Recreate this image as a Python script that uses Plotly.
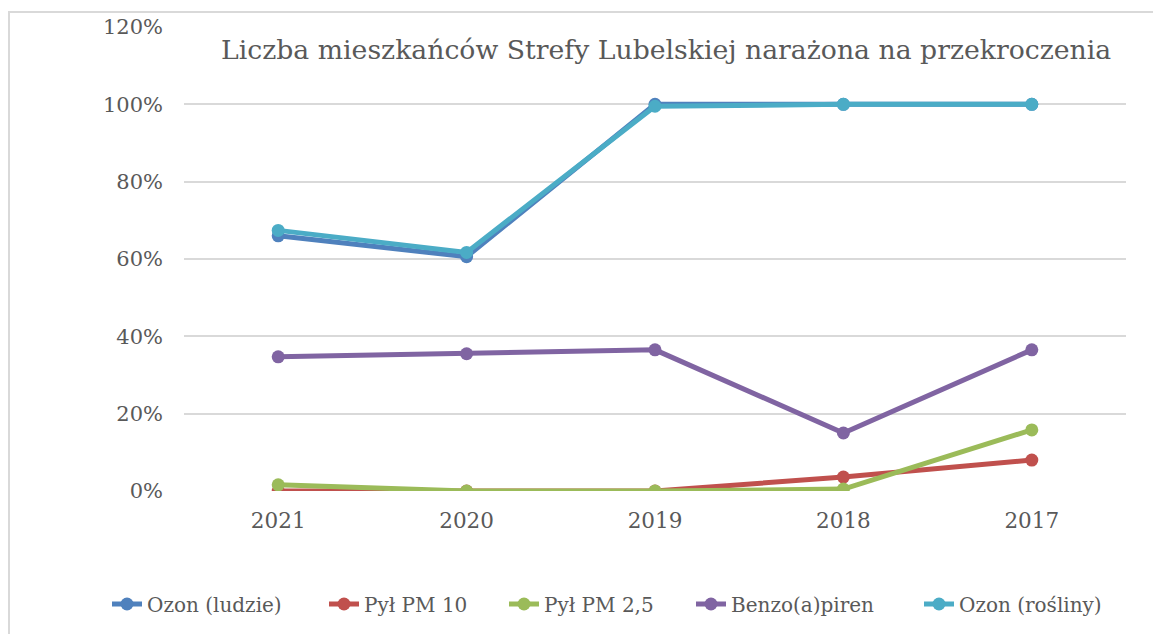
import plotly.graph_objects as go

years = ["2021", "2020", "2019", "2018", "2017"]
ozon_ludzie = [0.66, 0.606, 1.0, 1.0, 1.0]
pyl_pm10 = [0.0, 0.0, 0.0, 0.036, 0.08]
pyl_pm25 = [0.016, 0.0, 0.0, 0.005, 0.158]
benzo = [0.347, 0.355, 0.365, 0.15, 0.365]
ozon_rosliny = [0.674, 0.617, 0.995, 1.0, 1.0]

series = [
    ("Ozon (ludzie)", ozon_ludzie, "#4F81BD"),
    ("Pył PM 10", pyl_pm10, "#C0504D"),
    ("Pył PM 2,5", pyl_pm25, "#9BBB59"),
    ("Benzo(a)piren", benzo, "#8064A2"),
    ("Ozon (rośliny)", ozon_rosliny, "#4BACC6"),
]

# page-pixel layout (body has 8px default margin)
OFF = 8
PL, PR, PT, PB = 184, 1126, 27, 491
PW, PH = PR - PL, PB - PT

def px_x(px):
    return (px - PL) / PW

def px_y(py):
    return (PB - py) / PH

FONT = "DejaVu Serif"
legend_text_starts = [147, 364, 544, 731, 959]

fig = go.Figure()
for i, (name, vals, col) in enumerate(series):
    fig.add_trace(go.Scatter(
        x=years, y=vals, name=name, mode="lines+markers",
        line=dict(color=col, width=5),
        marker=dict(color=col, size=13),
        legend="legend" if i == 0 else f"legend{i+1}",
    ))

layout = dict(
    width=1161 - OFF, height=634 - OFF,
    margin=dict(l=PL - OFF, r=1161 - PR, t=PT - OFF, b=634 - PB, autoexpand=False),
    paper_bgcolor="white", plot_bgcolor="white",
    font=dict(family=FONT, color="#595959", size=21),
    showlegend=True,
    xaxis=dict(range=[-0.5, 4.5], showgrid=False, showline=False, zeroline=False,
               ticks="", ticklen=0, ticklabelstandoff=14,
               tickfont=dict(size=21.5), automargin=False),
    yaxis=dict(range=[0, 1.2], dtick=0.2, tickformat=".0%", showgrid=True,
               gridcolor="#D9D9D9", gridwidth=2, zeroline=False, showline=False,
               ticks="", ticklen=0, ticklabelstandoff=20,
               tickfont=dict(size=21), automargin=False),
    shapes=[dict(type="rect", xref="paper", yref="paper",
                 x0=px_x(9), x1=px_x(1166), y0=px_y(645), y1=px_y(12),
                 line=dict(color="#D9D9D9", width=2))],
    annotations=[dict(text="Liczba mieszkańców Strefy Lubelskiej narażona na przekroczenia",
                      xref="paper", yref="paper", x=px_x(666), y=px_y(50),
                      xanchor="center", yanchor="middle", showarrow=False,
                      font=dict(size=26.7, color="#595959", family=FONT))],
)
for i, ts in enumerate(legend_text_starts):
    key = "legend" if i == 0 else f"legend{i+1}"
    layout[key] = dict(orientation="h", x=px_x(ts - 40), xanchor="left",
                       y=px_y(604), yanchor="middle",
                       font=dict(size=20, color="#595959"),
                       bgcolor="rgba(0,0,0,0)")
fig.update_layout(**layout)
fig.write_html("out.html")
